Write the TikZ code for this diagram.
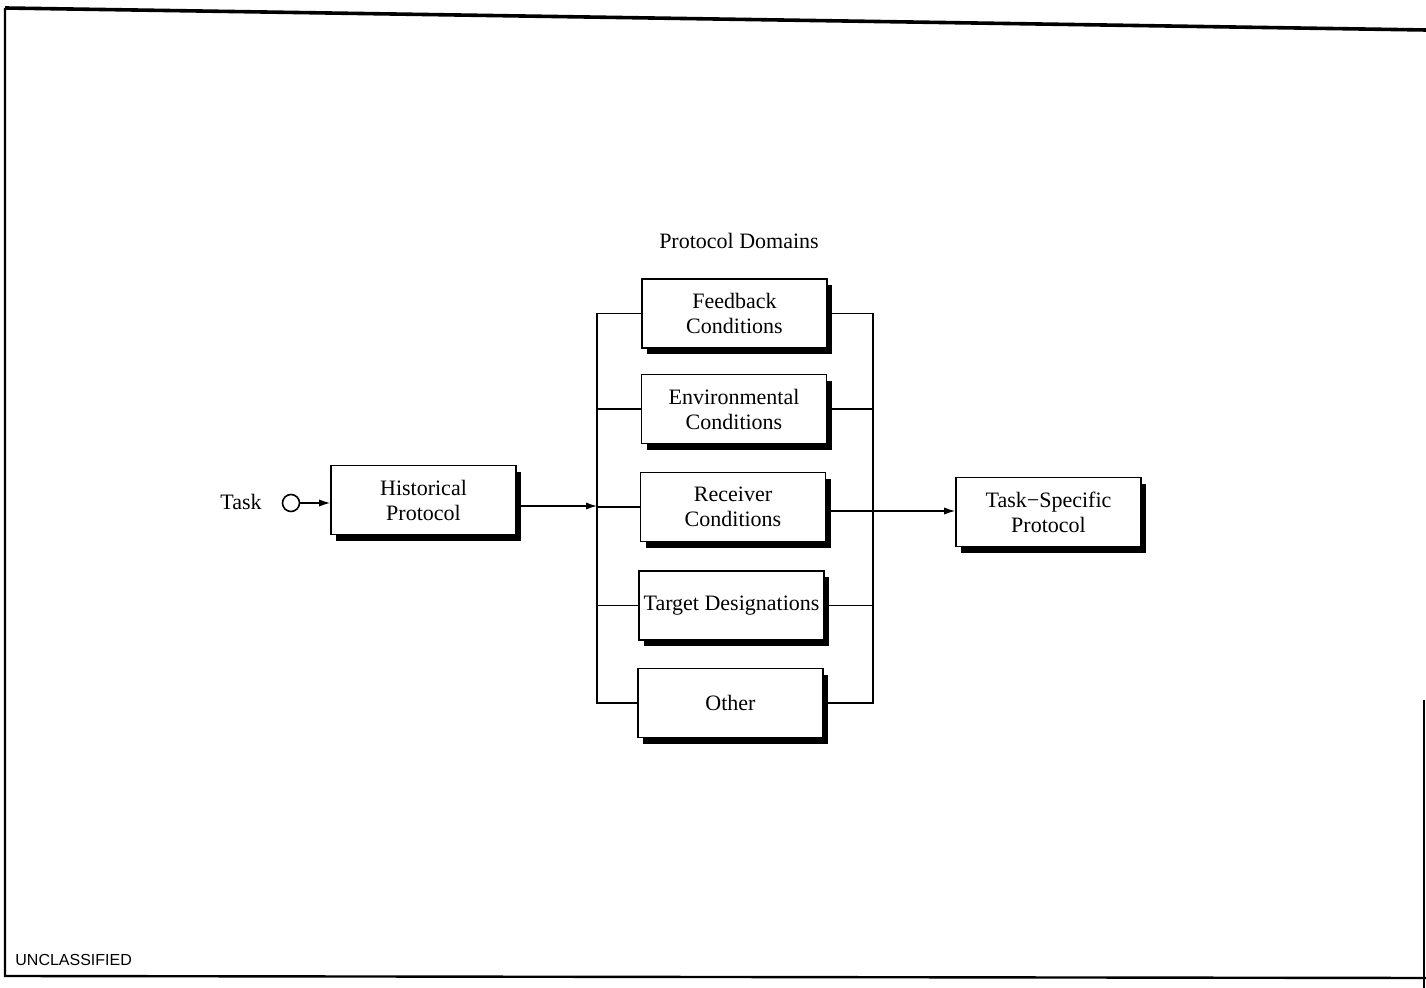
\documentclass[tikz,border=0pt]{standalone}
\usepackage{fontspec}
\setmainfont{Liberation Serif}
\newfontfamily\uncfont{Liberation Sans}
\usetikzlibrary{arrows.meta,calc}
\begin{document}
\begin{tikzpicture}[x=0.5pt,y=-0.5pt,
  every node/.style={font=\fontsize{11}{12.5}\selectfont},
  blk/.style={draw=black, line width=0.8pt, fill=white, minimum width=92.5pt, minimum height=34.5pt, inner sep=0pt, align=center,
    preaction={fill=black, transform canvas={shift={(2.6pt,-3.2pt)}}}},
  conn/.style={line width=0.7pt},
  arr/.style={line width=0.7pt, -{Latex[length=5.5pt,width=3.6pt]}},
  frame/.style={line width=1.2pt}]
\useasboundingbox (0,0) rectangle (1426,988);
% frame
\draw[line width=1.8pt] (5,8) -- (1426,30);
\draw[frame] (5,8) -- (5,976) -- (1426,978);
\draw[frame] (1424,700) -- (1424,988);
\node[anchor=south west, inner sep=0pt, font=\uncfont\fontsize{8}{10}\selectfont] (unc) at (15,966) {UNCLASSIFIED};
% nodes
\node (task) at (241,502) {Task};
\node[circle, draw, line width=0.8pt, minimum size=8.5pt, inner sep=0pt] (start) at (291,503) {};
\node[blk] (hist) at (423.5,500) {Historical\\Protocol};
\node (pd) at (739,241) {Protocol Domains};
\node[blk] (fb)  at (734.5,313.5) {Feedback\\Conditions};
\node[blk] (env) at (734,409) {Environmental\\Conditions};
\node[blk] (rec) at (733,507) {Receiver\\Conditions};
\node[blk] (tgt) at (731.5,605.5) {Target Designations};
\node[blk] (oth) at (730.5,703) {Other};
\node[blk] (ts)  at (1048.5,512) {Task−Specific\\Protocol};
\coordinate (lb) at (597,0);
\coordinate (rb) at (873,0);
% connectors
\draw[arr] (start) -- (start -| hist.west);
\draw[arr] ([yshift=-3pt]hist.east) -- ([yshift=-3pt]hist.east -| lb);
\draw[conn] (fb.west) -- (fb.west -| lb) -- (oth.west -| lb) -- (oth.west);
\draw[conn] (env.west) -- (env.west -| lb);
\draw[conn] (rec.west) -- (rec.west -| lb);
\draw[conn] (tgt.west) -- (tgt.west -| lb);
\draw[conn] (fb.east) -- (fb.east -| rb) -- (oth.east -| rb) -- (oth.east);
\draw[conn] (env.east) -- (env.east -| rb);
\draw[conn] (tgt.east) -- (tgt.east -| rb);
\draw[arr] ([yshift=-2pt]rec.east) -- ([yshift=-2pt]rec.east -| ts.west);
\end{tikzpicture}
\end{document}
